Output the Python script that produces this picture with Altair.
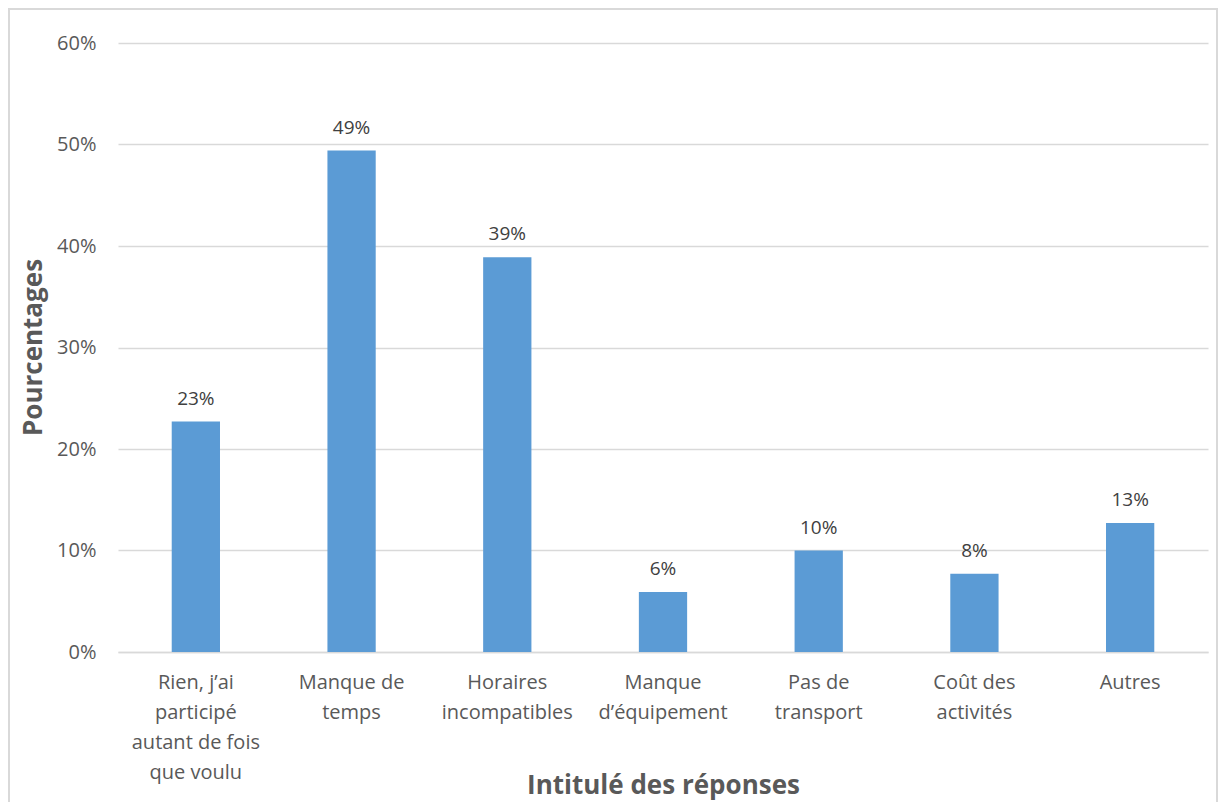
import altair as alt
import pandas as pd

categories = [
    "Rien, j’ai\nparticipé\nautant de fois\nque voulu",
    "Manque de\ntemps",
    "Horaires\nincompatibles",
    "Manque\nd’équipement",
    "Pas de\ntransport",
    "Coût des\nactivités",
    "Autres",
]
values = [0.227, 0.494, 0.389, 0.059, 0.100, 0.077, 0.127]
y_ticks = [0, 0.1, 0.2, 0.3, 0.4, 0.5, 0.6]

df = pd.DataFrame({"cat": categories, "val": values})

FONT = "Open Sans"

x = alt.X(
    "cat:N",
    sort=categories,
    scale=alt.Scale(paddingInner=0.69, paddingOuter=0.345),
    axis=alt.Axis(
        title="Intitulé des réponses",
        labelExpr="split(datum.label, '\\n')",
        labelAngle=0,
        labelFontSize=20,
        labelLineHeight=30,
        labelColor="#595959",
        labelFont=FONT,
        labelPadding=20,
        labelBaseline="top",
        ticks=False,
        domain=True,
        domainColor="#d9d9d9",
        domainWidth=1.5,
        titleFont=FONT,
        titleFontSize=26,
        titleFontWeight="bold",
        titleColor="#595959",
        titleX=545,
        titleY=133,
        titleBaseline="middle",
        titleAlign="center",
    ),
)

y = alt.Y(
    "val:Q",
    scale=alt.Scale(domain=[0, 0.6], nice=False),
    axis=alt.Axis(
        title="Pourcentages",
        values=y_ticks,
        format=".0%",
        labelFontSize=20,
        labelColor="#595959",
        labelFont=FONT,
        labelPadding=22,
        ticks=False,
        domain=False,
        grid=True,
        gridColor="#d9d9d9",
        gridWidth=1.5,
        titleFont=FONT,
        titleFontSize=26,
        titleFontWeight="bold",
        titleColor="#595959",
        titleAngle=-90,
        titleX=-85,
        titleY=304,
        titleAlign="center",
        titleBaseline="middle",
    ),
)

frame = alt.Chart(df).mark_rect(
    fillOpacity=0, stroke="#d9d9d9", strokeWidth=1.5
).encode(
    x=alt.value(-109), x2=alt.value(1099), y=alt.value(-34), y2=alt.value(800)
)

bars = alt.Chart(df).mark_bar(color="#5b9bd5").encode(x=x, y=y)

labels = alt.Chart(df).mark_text(
    dy=-13, fontSize=19, font=FONT, color="#404040", baseline="bottom"
).encode(
    x=alt.X("cat:N", sort=categories),
    y="val:Q",
    text=alt.Text("val:Q", format=".0%"),
)

chart = alt.layer(frame, bars, labels).properties(
    width=1090,
    height=609,
    background="white",
    autosize=alt.AutoSizeParams(type="none"),
    padding={"left": 110, "top": 35, "right": 10, "bottom": 150},
).configure_view(strokeWidth=0)

chart.save("out.html", embed_options={"renderer": "svg", "actions": False})
